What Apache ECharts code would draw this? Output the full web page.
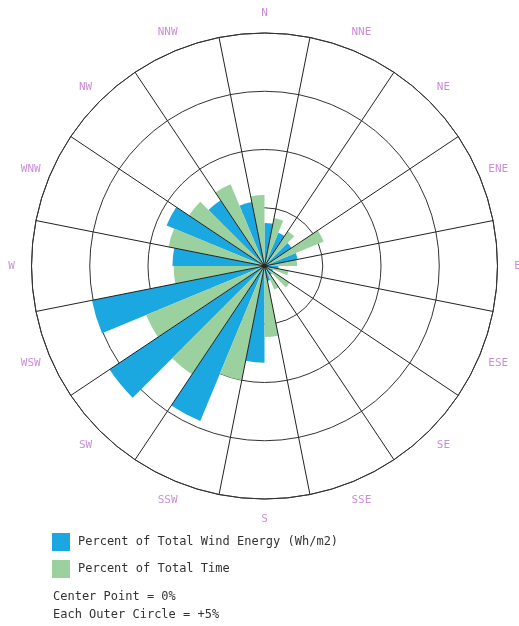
<!DOCTYPE html>
<html>
<head>
<meta charset="utf-8">
<style>
  html, body { margin: 0; padding: 0; background: #ffffff; }
  #chart { width: 519px; height: 626px; }
</style>
<script src="https://cdn.jsdelivr.net/npm/echarts@6/dist/echarts.min.js"></script>
</head>
<body>
<div id="chart"></div>
<script>
// Compass sectors, clockwise from north
const directions = ['N', 'NNE', 'NE', 'ENE', 'E', 'ESE', 'SE', 'SSE',
                    'S', 'SSW', 'SW', 'WSW', 'W', 'WNW', 'NW', 'NNW'];
// Percent of total wind energy (Wh/m2) per sector
const energyPct = [3.7, 3.1, 2.8, 2.9, 1.2, 0.8, 0.9, 1.3,
                   8.3, 14.4, 16.0, 15.1, 7.9, 9.1, 6.8, 5.6];
// Percent of total time per sector
const timePct = [6.1, 4.2, 3.6, 5.5, 2.8, 2.1, 2.6, 2.2,
                 6.1, 10.0, 11.2, 11.0, 7.8, 8.4, 7.8, 7.6];
// Rings every 5 %
const ringTicks = [0, 5, 10, 15, 20];

// Each sector is split in two half-slots: time on the counter-clockwise half,
// energy on the clockwise half of the sector's direction.
const SLOTS = directions.length * 2;
const slotNames = [];
const energySlots = [];
const timeSlots = [];
for (let s = 0; s < SLOTS; s++) {
  slotNames.push('s' + s);
  energySlots.push('-');
  timeSlots.push('-');
}
directions.forEach(function (d, i) {
  energySlots[2 * i] = energyPct[i];
  timeSlots[(2 * i + SLOTS - 1) % SLOTS] = timePct[i];
});
// Compass names sit on the rim of an outer label ring
const compassPoints = directions.map(function (d) { return [1, d]; });

const BLUE = '#1ba7df';
const GREEN = '#9bd19f';
const LABEL = '#bd72cc';
const MONO = 'DejaVu Sans Mono';
const CENTER = [264.5, 266];
const RADIUS = 233;
const LABEL_RADIUS = 253;

const chart = echarts.init(document.getElementById('chart'), null, { renderer: 'canvas' });
chart.setOption({
  backgroundColor: '#ffffff',
  animation: false,
  polar: [
    { center: CENTER, radius: RADIUS },
    { center: CENTER, radius: RADIUS },
    { center: CENTER, radius: LABEL_RADIUS }
  ],
  angleAxis: [
    {
      polarIndex: 0,
      type: 'category',
      data: slotNames,
      startAngle: 90,
      clockwise: true,
      boundaryGap: true,
      axisLine: { show: true, lineStyle: { color: '#333333', width: 1 } },
      axisTick: { show: false },
      axisLabel: { show: false },
      splitLine: { show: false }
    },
    {
      polarIndex: 1,
      type: 'category',
      data: directions,
      startAngle: 90 + 360 / SLOTS,
      clockwise: true,
      boundaryGap: true,
      z: 5,
      axisLine: { show: false },
      axisTick: { show: false },
      axisLabel: { show: false },
      splitLine: { show: true, lineStyle: { color: '#222222', width: 1 } }
    },
    {
      polarIndex: 2,
      type: 'category',
      data: directions,
      startAngle: 90 + 360 / SLOTS,
      clockwise: true,
      boundaryGap: true,
      axisLine: { show: false },
      axisTick: { show: false },
      axisLabel: { show: false },
      splitLine: { show: false }
    }
  ],
  radiusAxis: [
    {
      polarIndex: 0,
      type: 'value',
      min: ringTicks[0],
      max: ringTicks[ringTicks.length - 1],
      interval: ringTicks[1] - ringTicks[0],
      axisLine: { show: false },
      axisTick: { show: false },
      axisLabel: { show: false },
      splitLine: { show: true, lineStyle: { color: '#333333', width: 1 } }
    },
    {
      polarIndex: 1,
      type: 'value',
      min: ringTicks[0],
      max: ringTicks[ringTicks.length - 1],
      axisLine: { show: false },
      axisTick: { show: false },
      axisLabel: { show: false },
      splitLine: { show: false }
    },
    {
      polarIndex: 2,
      type: 'value',
      min: 0,
      max: 1,
      axisLine: { show: false },
      axisTick: { show: false },
      axisLabel: { show: false },
      splitLine: { show: false }
    }
  ],
  legend: {
    orient: 'vertical',
    left: 47,
    top: 528,
    itemWidth: 18,
    itemHeight: 18,
    itemGap: 9,
    icon: 'rect',
    selectedMode: false,
    textStyle: {
      fontFamily: MONO,
      fontSize: 12,
      color: '#333333',
      padding: [0, 0, 0, 3]
    },
    data: ['Percent of Total Wind Energy (Wh/m2)', 'Percent of Total Time']
  },
  graphic: [
    {
      type: 'text',
      left: 53,
      top: 591,
      style: { text: 'Center Point = 0%', fill: '#333333', font: '12px "' + MONO + '"' }
    },
    {
      type: 'text',
      left: 53,
      top: 609,
      style: { text: 'Each Outer Circle = +5%', fill: '#333333', font: '12px "' + MONO + '"' }
    }
  ],
  series: [
    {
      name: 'Percent of Total Wind Energy (Wh/m2)',
      type: 'bar',
      coordinateSystem: 'polar',
      polarIndex: 0,
      data: energySlots,
      barGap: '-100%',
      barCategoryGap: '0%',
      itemStyle: { color: BLUE },
      z: 2
    },
    {
      name: 'Percent of Total Time',
      type: 'bar',
      coordinateSystem: 'polar',
      polarIndex: 0,
      data: timeSlots,
      barGap: '-100%',
      barCategoryGap: '0%',
      itemStyle: { color: GREEN },
      z: 2
    },
    {
      name: 'compass',
      type: 'scatter',
      coordinateSystem: 'polar',
      polarIndex: 2,
      data: compassPoints,
      symbolSize: 0,
      silent: true,
      clip: false,
      label: {
        show: true,
        position: 'inside',
        align: 'center',
        verticalAlign: 'middle',
        color: LABEL,
        fontFamily: MONO,
        fontSize: 11,
        formatter: function (p) { return directions[p.dataIndex]; }
      }
    }
  ]
});
</script>
</body>
</html>
